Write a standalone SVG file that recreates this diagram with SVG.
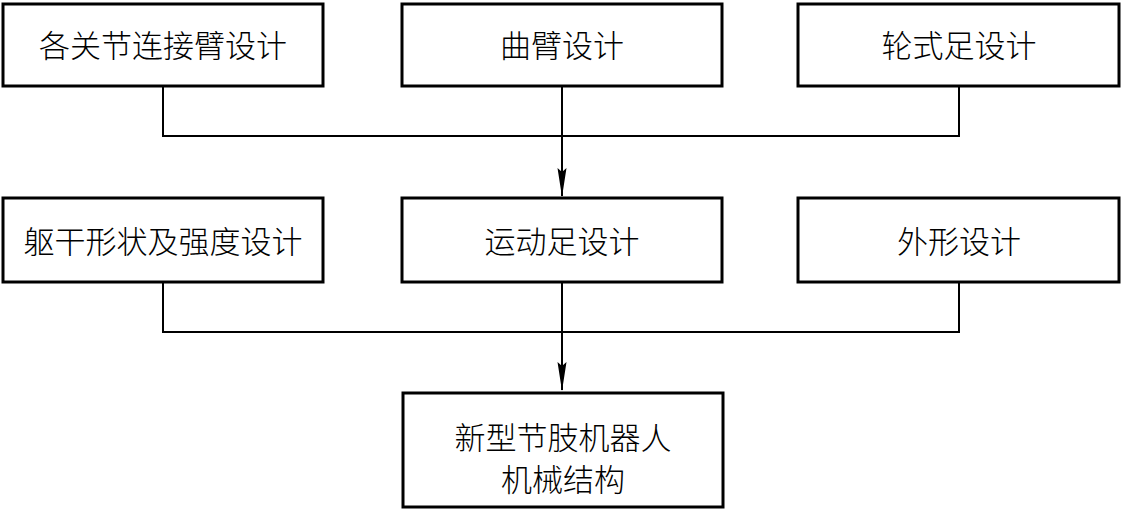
<svg xmlns="http://www.w3.org/2000/svg" width="1122" height="510" viewBox="0 0 1122 510">
<style>
.box{fill:#fff;stroke:#000;stroke-width:3}
.t{font-family:"Noto Sans CJK SC",sans-serif;font-weight:300;font-size:31px;fill:#000;text-anchor:middle;dominant-baseline:central}
.c{fill:none;stroke:#000;stroke-width:2}
.ah{fill:#000}
</style>
<rect width="1122" height="510" fill="#fff"/>
<g id="connectors">
<path class="c" d="M163,86 V136 H959 V86"/>
<path class="c" d="M562,86 V196"/>
<path class="ah" d="M557.5,168 L562,172 L566.5,168 L562,197 Z"/>
<path class="c" d="M163,282 V332 H959 V282"/>
<path class="c" d="M562,282 V390"/>
<path class="ah" d="M557.5,362 L562,366 L566.5,362 L562,391 Z"/>
</g>
<g id="n1"><rect class="box" x="3" y="4" width="320" height="82"/><text class="t" x="163" y="43">各关节连接臂设计</text></g>
<g id="n2"><rect class="box" x="402" y="4" width="320" height="82"/><text class="t" x="562" y="43">曲臂设计</text></g>
<g id="n3"><rect class="box" x="798" y="4" width="321" height="82"/><text class="t" x="959" y="43">轮式足设计</text></g>
<g id="n4"><rect class="box" x="3" y="198" width="320" height="84"/><text class="t" x="163" y="239">躯干形状及强度设计</text></g>
<g id="n5"><rect class="box" x="402" y="198" width="320" height="84"/><text class="t" x="562" y="239">运动足设计</text></g>
<g id="n6"><rect class="box" x="798" y="198" width="321" height="84"/><text class="t" x="959" y="239">外形设计</text></g>
<g id="n7"><rect class="box" x="403" y="393" width="320" height="114"/><text class="t" x="563" y="435">新型节肢机器人</text><text class="t" x="563" y="477">机械结构</text></g>
</svg>
